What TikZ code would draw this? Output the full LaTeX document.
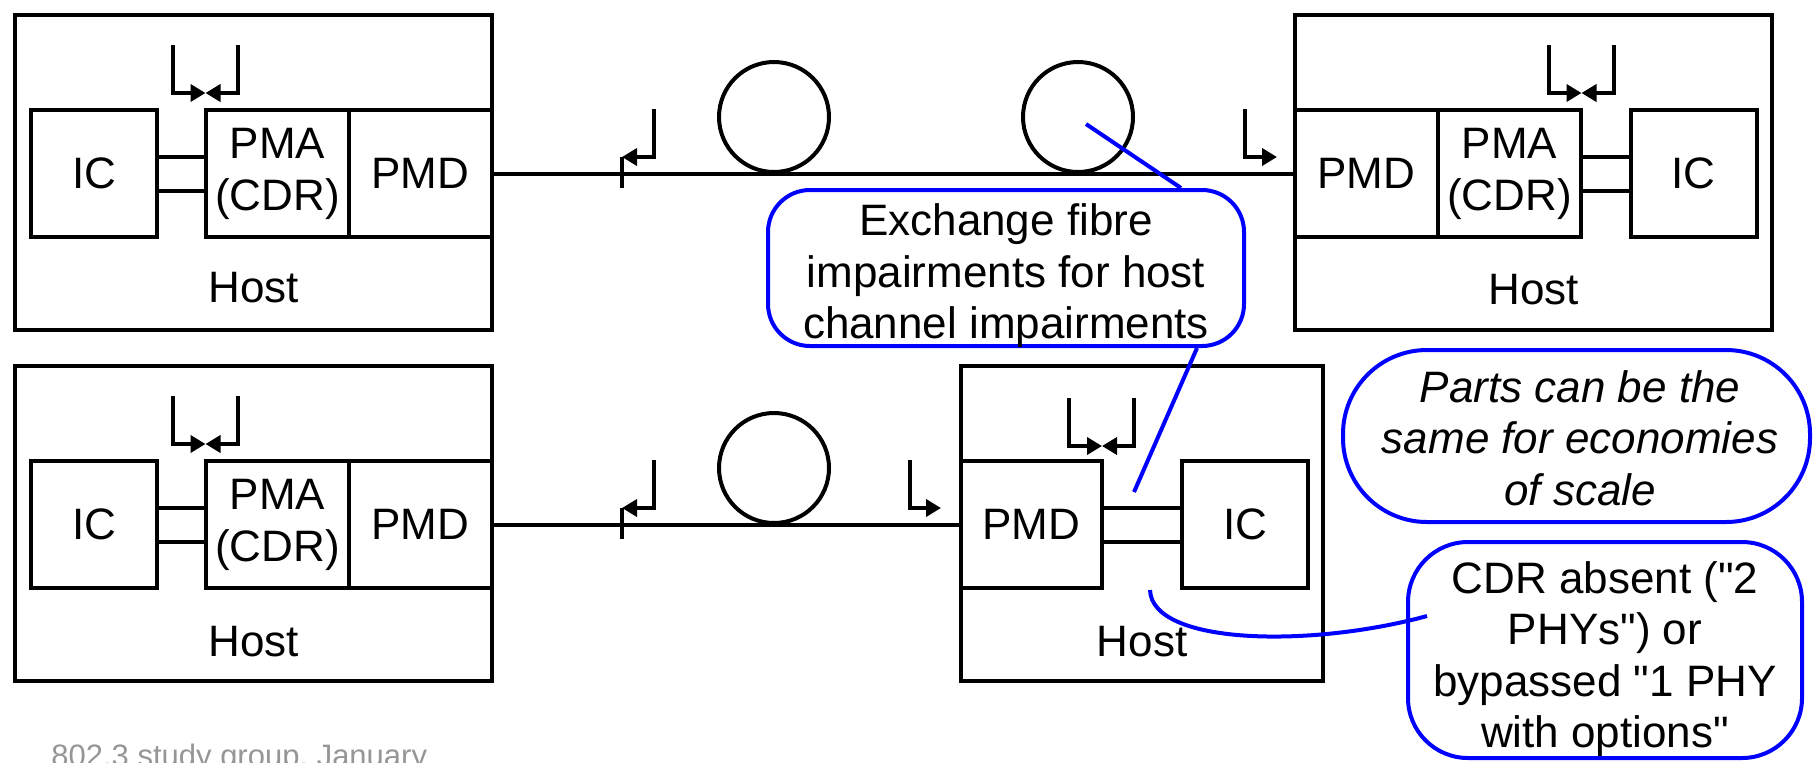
\documentclass[tikz,border=0pt]{standalone}
\usepackage{fontspec}
\newfontfamily\arialf{Liberation Sans}
\usetikzlibrary{arrows.meta}
\definecolor{callblue}{RGB}{0,0,255}
\definecolor{footgray}{RGB}{150,150,150}
\begin{document}
\begin{tikzpicture}[x=0.5pt,y=-0.5pt,
  wire/.style={line width=2pt},
  blk/.style={draw,line width=2pt,rectangle,inner sep=0pt,outer sep=0pt,minimum height=63.5pt,
     font=\arialf\fontsize{22}{26}\selectfont,align=center},
  hostbox/.style={draw,line width=2pt,rectangle,inner sep=0pt,outer sep=0pt,minimum height=157.5pt},
  lbl/.style={inner sep=0pt,font=\arialf\fontsize{22}{26}\selectfont,align=center},
  loop/.style={draw,line width=2pt,circle,inner sep=0pt,minimum size=55pt},
  tp/.style={line width=2pt,-{Triangle[length=7.5pt,width=8.5pt]}},
  call/.style={draw=callblue,line width=2pt,rectangle,inner sep=0pt},
  calltxt/.style={inner sep=0pt,font=\arialf\fontsize{22}{25.75}\selectfont,align=center},
  blueline/.style={draw=callblue,line width=2pt}]
\useasboundingbox (0,0) rectangle (1814,762);

% ---------- top-left host ----------
\node[hostbox,minimum width=238.5pt] (hostA) at (253.5,172.5) {};
\node[blk,minimum width=63pt] (icA) at (94,173.5) {IC};
\node[blk,minimum width=71.5pt] (pmaA) at (277.5,173.5) {PMA\\(CDR)};
\node[blk,minimum width=71.5pt] (pmdA) at (420.5,173.5) {PMD};
\node[lbl] (hostAt) at (253.5,288) {Host};
\draw[wire] ([yshift=8.5pt]icA.east) -- ([yshift=8.5pt]pmaA.west);
\draw[wire] ([yshift=-8.5pt]icA.east) -- ([yshift=-8.5pt]pmaA.west);
\draw[tp] (173,45) |- (205.5,93);
\draw[tp] (237.5,45) |- (205.5,93);

% ---------- top-right host ----------
\node[hostbox,minimum width=238.5pt] (hostB) at (1533.5,172.5) {};
\node[blk,minimum width=71.5pt] (pmdB) at (1366.5,173.5) {PMD};
\node[blk,minimum width=71.5pt] (pmaB) at (1509.5,173.5) {PMA\\(CDR)};
\node[blk,minimum width=63pt] (icB) at (1693.5,173.5) {IC};
\node[lbl] (hostBt) at (1533.5,290) {Host};
\draw[wire] ([yshift=8.5pt]pmaB.east) -- ([yshift=8.5pt]icB.west);
\draw[wire] ([yshift=-8.5pt]pmaB.east) -- ([yshift=-8.5pt]icB.west);
\draw[tp] (1549,45) |- (1581.5,93);
\draw[tp] (1614,45) |- (1581.5,93);

% ---------- top fibre ----------
\draw[wire] (pmdA.east) -- (pmdB.west);
\node[loop] (loopA) at (774,117) {};
\node[loop] (loopB) at (1078,117) {};
\draw[wire] (622,157) -- (622,188);
\draw[tp] (654,109) |- (622,157);
\draw[tp] (1245,109) |- (1277,157);

% ---------- bottom-left host ----------
\node[hostbox,minimum width=238.5pt] (hostC) at (253.5,523.5) {};
\node[blk,minimum width=63pt] (icC) at (94,524.5) {IC};
\node[blk,minimum width=71.5pt] (pmaC) at (277.5,524.5) {PMA\\(CDR)};
\node[blk,minimum width=71.5pt] (pmdC) at (420.5,524.5) {PMD};
\node[lbl] (hostCt) at (253.5,642) {Host};
\draw[wire] ([yshift=8.5pt]icC.east) -- ([yshift=8.5pt]pmaC.west);
\draw[wire] ([yshift=-8.5pt]icC.east) -- ([yshift=-8.5pt]pmaC.west);
\draw[tp] (173,396) |- (205.5,444);
\draw[tp] (237.5,396) |- (205.5,444);

% ---------- bottom-right host ----------
\node[hostbox,minimum width=181pt] (hostD) at (1142,523.5) {};
\node[blk,minimum width=70.5pt] (pmdD) at (1031.5,524.5) {PMD};
\node[blk,minimum width=63pt] (icD) at (1245,524.5) {IC};
\node[lbl] (hostDt) at (1142,642) {Host};
\draw[wire] ([yshift=8.5pt]pmdD.east) -- ([yshift=8.5pt]icD.west);
\draw[wire] ([yshift=-8.5pt]pmdD.east) -- ([yshift=-8.5pt]icD.west);
\draw[tp] (1069,398) |- (1102,446);
\draw[tp] (1134,398) |- (1102,446);

% ---------- bottom fibre ----------
\draw[wire] (pmdC.east) -- (pmdD.west);
\node[loop] (loopC) at (774,468) {};
\draw[wire] (622,508) -- (622,539);
\draw[tp] (654,460) |- (622,508);
\draw[tp] (910,460) |- (941,508);

% ---------- callouts ----------
\node[call,rounded corners=21pt,minimum width=238pt,minimum height=78pt] (callA) at (1006,268) {};
\node[calltxt] (callAt) at (1006,276) {Exchange fibre\\impairments for host\\channel impairments};
\coordinate (ptrA) at (1086,124);
\coordinate (ptrB) at (1134,492);
\draw[blueline] ([xshift=87.5pt]callA.north) -- (ptrA);
\draw[blueline] ([xshift=95.5pt]callA.south) -- (ptrB);

\node[call,rounded corners=42pt,minimum width=233.5pt,minimum height=86pt] (callB) at (1576.5,436) {};
\node[calltxt,font=\arialf\fontsize{22}{25.75}\selectfont\itshape] (callBt) at (1580,438) {Parts can be the\\same for economies\\of scale};

\node[call,rounded corners=30pt,minimum width=197pt,minimum height=108pt] (callC) at (1605,650) {};
\node[calltxt] (callCt) at (1605,659) {CDR absent ("2\\PHYs") or\\bypassed "1 PHY\\with options"};
\coordinate (crvA) at (1150,590);
\coordinate (crvB) at (1427,616);
\draw[blueline] (crvA) .. controls (1152,645) and (1310,648) .. (crvB);

% ---------- footer ----------
\node[inner sep=0pt,anchor=base west,text=footgray,font=\arialf\fontsize{15.5}{18}\selectfont] (foot) at (51,766) {802.3 study group, January};
\end{tikzpicture}
\end{document}
